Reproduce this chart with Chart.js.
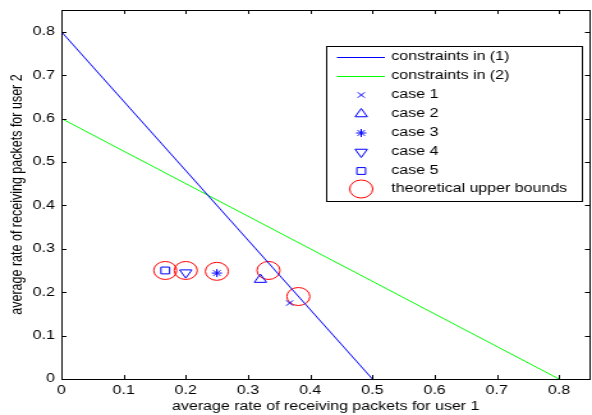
<!DOCTYPE html>
<html>
<head>
<meta charset="utf-8">
<script src="https://cdn.jsdelivr.net/npm/chart.js@4.4.1/dist/chart.umd.min.js"></script>
<style>
html, body { margin: 0; padding: 0; background: #fff; overflow: hidden; }
/* the reference picture is stretched sideways, so the chart is drawn narrow and widened */
#wrap { width: 463px; height: 415px; transform: scaleX(1.2786); transform-origin: 0 0; }
</style>
</head>
<body>
<div id="wrap"><canvas id="chart" width="463" height="415"></canvas></div>
<script>
const xTicks = [0, 0.1, 0.2, 0.3, 0.4, 0.5, 0.6, 0.7, 0.8];
const yTicks = [0, 0.1, 0.2, 0.3, 0.4, 0.5, 0.6, 0.7, 0.8];

const constraint1X = [0, 0.5];
const constraint1Y = [0.8, 0];
const constraint2X = [0, 0.8];
const constraint2Y = [0.6, 0];

// case 1 .. case 5
const caseX = [0.367, 0.32, 0.25, 0.2, 0.167];
const caseY = [0.175, 0.229, 0.244, 0.245, 0.25];
const boundX = [0.381, 0.333, 0.25, 0.2, 0.167];
const boundY = [0.19, 0.25, 0.248, 0.25, 0.25];

const caseLabels = ['case 1', 'case 2', 'case 3', 'case 4', 'case 5'];

const FONT = "'Liberation Sans', Arial, Helvetica, sans-serif";
Chart.defaults.color = '#000';
Chart.defaults.font.family = FONT;
Chart.defaults.font.size = 12.5;

function pts(xs, ys) {
    return xs.map((x, i) => ({ x: x, y: ys[i] }));
}

const markers = [
    { style: 'crossRot', r: 3.8, rot: 0 },
    { style: 'triangle', r: 5.5, rot: 0 },
    { style: 'star', r: 4, rot: 0 },
    { style: 'triangle', r: 5.5, rot: 180 },
    { style: 'rect', r: 4.8, rot: 0 }
];

const datasets = [
    {
        label: 'constraints in (1)',
        data: pts(constraint1X, constraint1Y),
        showLine: true,
        borderColor: '#0000ff',
        borderWidth: 1,
        pointRadius: 0
    },
    {
        label: 'constraints in (2)',
        data: pts(constraint2X, constraint2Y),
        showLine: true,
        borderColor: '#00ff00',
        borderWidth: 1,
        pointRadius: 0
    }
];

caseLabels.forEach((lab, i) => {
    datasets.push({
        label: lab,
        data: [{ x: caseX[i], y: caseY[i] }],
        showLine: false,
        borderColor: '#0000ff',
        backgroundColor: 'rgba(0,0,0,0)',
        pointStyle: markers[i].style,
        pointRadius: markers[i].r,
        pointRotation: markers[i].rot,
        pointBorderWidth: 1
    });
});

datasets.push({
    label: 'theoretical upper bounds',
    data: pts(boundX, boundY),
    showLine: false,
    borderColor: '#ff0000',
    backgroundColor: 'rgba(0,0,0,0)',
    pointStyle: 'circle',
    pointRadius: 9,
    pointBorderWidth: 1
});

function noPad(s) {
    s.paddingLeft = 0;
    s.paddingRight = 0;
    s.paddingTop = 0;
    s.paddingBottom = 0;
}

/* ===== box, inward ticks and legend ===== */
const framePlugin = {
    id: 'frame',
    afterDatasetsDraw(chart) {
        const ctx = chart.ctx;
        const a = chart.chartArea;
        const xs = chart.scales.x, ys = chart.scales.y;
        ctx.save();
        ctx.strokeStyle = '#000';
        ctx.lineWidth = 1;
        ctx.beginPath();
        xTicks.forEach(v => {
            const p = Math.round(xs.getPixelForValue(v)) + 0.5;
            ctx.moveTo(p, a.bottom); ctx.lineTo(p, a.bottom - 4);
            ctx.moveTo(p, a.top); ctx.lineTo(p, a.top + 4);
        });
        yTicks.forEach(v => {
            const p = Math.round(ys.getPixelForValue(v)) + 0.5;
            ctx.moveTo(a.left, p); ctx.lineTo(a.left + 4, p);
            ctx.moveTo(a.right, p); ctx.lineTo(a.right - 4, p);
        });
        ctx.stroke();
        ctx.strokeRect(Math.round(a.left) + 0.5, Math.round(a.top) + 0.5,
            Math.round(a.right - a.left) - 1, Math.round(a.bottom - a.top));

        // legend
        const bx = 255.5, by = 46.5, bw = 200, bh = 155;
        ctx.fillStyle = '#fff';
        ctx.fillRect(bx, by, bw, bh);
        ctx.strokeRect(bx, by, bw, bh);
        ctx.font = '12.5px ' + FONT;
        ctx.textBaseline = 'middle';
        ctx.textAlign = 'left';
        chart.data.datasets.forEach((ds, i) => {
            const y = 57 + i * 19 - (i === 7 ? 1 : 0);
            ctx.strokeStyle = ds.borderColor;
            ctx.lineWidth = 1;
            if (ds.showLine) {
                ctx.beginPath();
                ctx.moveTo(263.5, y + 0.5);
                ctx.lineTo(301, y + 0.5);
                ctx.stroke();
            } else {
                ctx.fillStyle = 'rgba(0,0,0,0)';
                Chart.helpers.drawPoint(ctx, {
                    pointStyle: ds.pointStyle,
                    radius: ds.pointRadius,
                    rotation: ds.pointRotation || 0,
                    borderWidth: 1
                }, 282.5, y);
            }
            ctx.fillStyle = '#000';
            ctx.fillText(ds.label, 306, y);
        });
        ctx.restore();
    }
};

const ctx = document.getElementById('chart').getContext('2d');

const chart = new Chart(ctx, {
    type: 'scatter',
    data: { datasets: datasets },
    options: {
        responsive: false,
        animation: false,
        devicePixelRatio: 1,
        layout: { autoPadding: false, padding: { top: 10, right: 1.5, left: 0, bottom: 0 } },
        plugins: {
            legend: { display: false },
            tooltip: { enabled: false }
        },
        scales: {
            x: {
                type: 'linear',
                min: 0,
                max: 0.85,
                grid: { display: false, drawTicks: false },
                border: { display: false },
                afterBuildTicks: s => { s.ticks = xTicks.map(v => ({ value: v })); },
                afterFit: s => { s.height = 36; noPad(s); },
                ticks: {
                    padding: 4.5,
                    maxRotation: 0,
                    autoSkip: false,
                    callback: v => String(v)
                },
                title: {
                    display: true,
                    text: 'average rate of receiving packets for user 1',
                    padding: { top: 0, bottom: 0.5 }
                }
            },
            y: {
                type: 'linear',
                min: 0,
                max: 0.85,
                grid: { display: false, drawTicks: false },
                border: { display: false },
                afterBuildTicks: s => { s.ticks = yTicks.map(v => ({ value: v })); },
                afterFit: s => { s.width = 48; noPad(s); },
                ticks: {
                    padding: 5,
                    autoSkip: false,
                    callback: v => String(v)
                },
                title: {
                    display: true,
                    text: 'average rate of receiving packets for user 2',
                    padding: { top: 6.5, bottom: 0 }
                }
            }
        }
    },
    plugins: [framePlugin]
});
</script>
</body>
</html>
